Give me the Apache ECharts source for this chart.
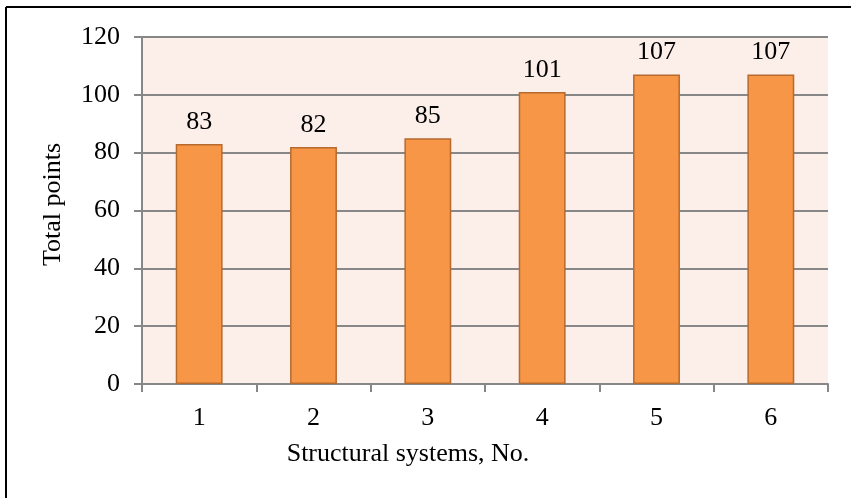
<!DOCTYPE html>
<html>
<head>
<meta charset="utf-8">
<script src="https://cdn.jsdelivr.net/npm/echarts@6/dist/echarts.min.js"></script>
<style>
  html, body { margin: 0; padding: 0; background: #ffffff; }
  #chart { width: 851px; height: 498px; }
</style>
</head>
<body>
<div id="chart"></div>
<script>
// Total points scored by each structural system
const categories = ['1', '2', '3', '4', '5', '6'];
const totalPoints = [83, 82, 85, 101, 107, 107];
const yTicks = { min: 0, max: 120, interval: 20 };

const serif = '"Liberation Serif", "Times New Roman", serif';
const gridColor = '#878787';
const fontSize = 26;

const chart = echarts.init(document.getElementById('chart'), null, { renderer: 'canvas' });

chart.setOption({
  backgroundColor: '#ffffff',
  animation: false,
  grid: {
    left: 142, right: 23, top: 37, bottom: 114,
    show: true,
    backgroundColor: '#FCEEE9',
    borderWidth: 0
  },
  xAxis: {
    type: 'category',
    data: categories,
    name: 'Structural systems, No.',
    nameLocation: 'middle',
    nameGap: 57,
    nameTextStyle: { fontFamily: serif, fontSize: fontSize, color: '#000', padding: [0, 154, 0, 0] },
    axisLine: { lineStyle: { color: gridColor, width: 2 } },
    axisTick: { show: true, length: 8, lineStyle: { color: gridColor, width: 2 } },
    axisLabel: { fontFamily: serif, fontSize: fontSize, color: '#000', margin: 21 }
  },
  yAxis: {
    type: 'value',
    min: yTicks.min,
    max: yTicks.max,
    interval: yTicks.interval,
    name: 'Total points',
    nameLocation: 'middle',
    nameGap: 76,
    nameRotate: 90,
    nameTextStyle: { fontFamily: serif, fontSize: fontSize, color: '#000', padding: [0, 0, 0, 12] },
    axisLine: { show: true, lineStyle: { color: gridColor, width: 2 } },
    axisTick: { show: true, length: 8, lineStyle: { color: gridColor, width: 2 } },
    axisLabel: { fontFamily: serif, fontSize: fontSize, color: '#000', margin: 22 },
    splitLine: { show: true, lineStyle: { color: gridColor, width: 2 } }
  },
  series: [{
    type: 'bar',
    data: totalPoints,
    barWidth: '41%',
    itemStyle: { color: '#F79646', borderColor: '#B66A2E', borderWidth: 1.5 },
    label: {
      show: true,
      position: 'top',
      distance: 9,
      fontFamily: serif,
      fontSize: fontSize,
      color: '#000'
    }
  }],
  graphic: [
    // frame lines along the top and left edges
    { type: 'line', shape: { x1: 6, y1: 7, x2: 851, y2: 7 }, style: { stroke: '#000', lineWidth: 2 } },
    { type: 'line', shape: { x1: 6, y1: 7, x2: 6, y2: 498 }, style: { stroke: '#000', lineWidth: 2 } }
  ]
});
</script>
</body>
</html>
